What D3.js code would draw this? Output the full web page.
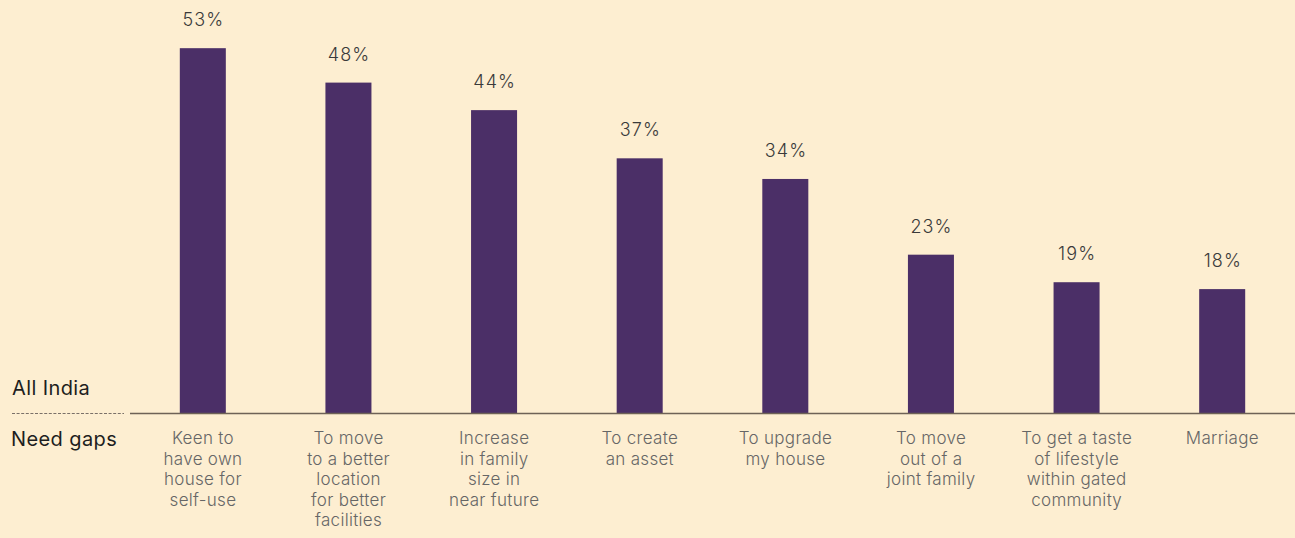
<!DOCTYPE html>
<html><head><meta charset="utf-8">
<script src="https://cdn.jsdelivr.net/npm/d3@7/dist/d3.min.js"></script>
<style>
html,body{margin:0;padding:0;background:#fdeed1;}
svg{display:block;font-family:Inter,"Liberation Sans",Arial,sans-serif;}
</style></head>
<body>
<script>
const categories = [
  ["Keen to","have own","house for","self-use"],
  ["To move","to a better","location","for better","facilities"],
  ["Increase","in family","size in","near future"],
  ["To create","an asset"],
  ["To upgrade","my house"],
  ["To move","out of a","joint family"],
  ["To get a taste","of lifestyle","within gated","community"],
  ["Marriage"]
];
const values = [53, 48, 44, 37, 34, 23, 19, 18];
const rowLabels = ["All India", "Need gaps"];

const W = 1295, H = 538;
const svg = d3.select("body").append("svg").attr("width", W).attr("height", H);
svg.append("rect").attr("width", W).attr("height", H).attr("fill", "#fdeed1");

const idx = d3.range(values.length);
const x = d3.scaleBand().domain(idx).range([130, 1295]).paddingInner(0.684).paddingOuter(0.342);
const y = d3.scaleLinear().domain([0, 60]).range([413, 0]);

svg.selectAll("rect.bar").data(idx).join("rect").attr("class","bar")
  .attr("x", i => x(i)).attr("width", x.bandwidth())
  .attr("y", i => y(values[i])).attr("height", i => y(0) - y(values[i]))
  .attr("fill", "#4b2f67");

svg.selectAll("text.val").data(idx).join("text").attr("class","val")
  .attr("x", i => x(i) + x.bandwidth()/2 + 0.6).attr("y", i => y(values[i]) - 22)
  .attr("text-anchor","middle").attr("font-size", 18).attr("letter-spacing", 1.1)
  .attr("font-weight",300).attr("fill","#3a3a3a")
  .text(i => values[i] + "%");

// baseline
svg.append("line").attr("x1",130).attr("x2",1295).attr("y1",y(0)+0.5).attr("y2",y(0)+0.5)
  .attr("stroke","#6e6256").attr("stroke-width",1.3);
svg.append("line").attr("x1",12).attr("x2",124).attr("y1",y(0)+0.5).attr("y2",y(0)+0.5)
  .attr("stroke","#7a7068").attr("stroke-width",1).attr("stroke-dasharray","3,1.6");

// category labels
const g = svg.selectAll("text.cat").data(idx).join("text").attr("class","cat")
  .attr("text-anchor","middle").attr("font-size",17).attr("letter-spacing",0.3)
  .attr("font-weight",300).attr("fill","#666");
g.each(function(i){
  const t = d3.select(this);
  categories[i].forEach((line, k) => {
    t.append("tspan").attr("x", x(i) + x.bandwidth()/2 + 0.15).attr("y", 444 + k*20.5).text(line);
  });
});

svg.append("text").attr("x",12).attr("y",395).attr("font-size",20).attr("letter-spacing",0.4).attr("fill","#1e1e1e").text(rowLabels[0]);
svg.append("text").attr("x",11).attr("y",446).attr("font-size",20).attr("letter-spacing",0.4).attr("fill","#1e1e1e").text(rowLabels[1]);
</script>
</body></html>
